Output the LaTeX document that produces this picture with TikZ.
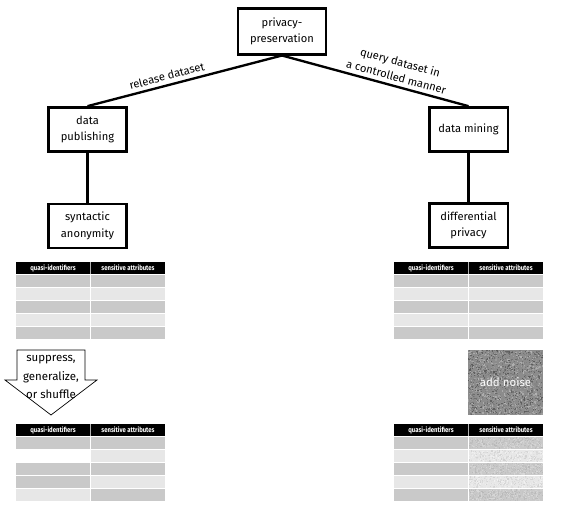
\documentclass[tikz,border=0pt]{standalone}
\usepackage{fontspec}
\setmainfont{Fira Sans}
\newfontfamily\condfont[FakeStretch=0.85]{Fira Sans}
\usetikzlibrary{positioning}
\definecolor{rowdark}{RGB}{201,201,201}
\definecolor{rowlight}{RGB}{231,231,231}
\definecolor{noisegray}{RGB}{140,140,140}
\tikzstyle{levelbox} = [rectangle, draw=black, line width=2pt, minimum width=2.35cm, minimum height=1.33cm, align=center, font=\fontsize{9.5}{14}\selectfont]
\tikzstyle{rootbox} = [levelbox, minimum width=2.65cm, minimum height=1.37cm]
\tikzstyle{link} = [line width=2pt]
\tikzstyle{linklabel} = [font=\fontsize{9.5}{13}\selectfont, align=center, sloped, above]
\tikzstyle{headtext} = [text=white, font=\condfont\bfseries\fontsize{6}{7}\selectfont, inner sep=0pt]

% table with a black header row and five coloured rows
\newcommand{\datatable}[4]{%
  \fill[black] (#1,#2) rectangle ++(149,12);
  \node[headtext] (#3q) at (#1+37,#2+6) {quasi-identifiers};
  \node[headtext] (#3s) at (#1+112,#2+6) {sensitive attributes};
  \draw[white!70!black, line width=0.5pt] (#1+74.5,#2) -- ++(0,12);
  \foreach \cl/\cr [count=\r] in {#4} {
    \fill[\cl] (#1,#2+13*\r) rectangle ++(74,12);
    \fill[\cr] (#1+75,#2+13*\r) rectangle ++(74,12);
  }
}
% random grain over a rectangle
\newcommand{\noisefill}[7]{%
  \foreach \k in {1,...,#5} {
    \pgfmathsetmacro{\nx}{#1+rnd*(#3-1.2)}
    \pgfmathsetmacro{\ny}{#2+rnd*(#4-1.2)}
    \pgfmathsetmacro{\nc}{#6+rnd*#7}
    \fill[black!\nc] (\nx,\ny) rectangle ++(1.2,1.2);
  }
}

\begin{document}
\begin{tikzpicture}[x=0.03cm, y=-0.03cm]
\useasboundingbox (0,0) rectangle (561,508);
\pgfmathsetseed{17}

% hierarchy
\node[rootbox] (root) at (282,31.5) {privacy-\\preservation};
\node[levelbox] (pub) at (87.5,129.5) {data\\publishing};
\node[levelbox] (syn) at (87.5,226) {syntactic\\anonymity};
\node[levelbox] (mine) at (468.5,129.5) {data mining};
\node[levelbox] (diff) at (468.5,225.5) {differential\\privacy};

\draw[link] (root.south) -- node[linklabel, pos=0.58] (rel) {release dataset} (pub.north);
\draw[link] (root.south) -- node[linklabel, pos=0.6] (qry) {query dataset in\\a controlled manner} (mine.north);
\draw[link] (pub) -- (syn);
\draw[link] (mine) -- (diff);

% original tables
\datatable{16}{262}{ptop}{rowdark/rowdark, rowlight/rowlight, rowdark/rowdark, rowlight/rowlight, rowdark/rowdark}
\datatable{394}{262}{dtop}{rowdark/rowdark, rowlight/rowlight, rowdark/rowdark, rowlight/rowlight, rowdark/rowdark}

% suppress arrow
\draw[line width=0.6pt, fill=white] (17,350) -- (85,350) -- (85,380) -- (97,380) -- (51,415) -- (5,380) -- (17,380) -- cycle;
\node[font=\fontsize{9.8}{16}\selectfont, align=center] (act) at (51,377) {suppress,\\generalize,\\or shuffle};

% noise
\fill[noisegray] (468,350) rectangle (543,415);
\noisefill{468}{350}{75}{65}{2000}{30}{35}
\node[text=white, font=\fontsize{9.8}{12}\selectfont] (noise) at (505.5,382.5) {add noise};

% released tables
\datatable{16}{424}{pbot}{rowdark/rowdark, white/rowlight, rowdark/rowdark, rowdark/rowlight, rowlight/rowdark}
\datatable{394}{424}{dbot}{rowdark/rowdark, rowlight/rowlight, rowdark/rowdark, rowlight/rowlight, rowdark/rowdark}
\foreach \yy/\mm in {437/15, 450/5, 463/15, 476/5, 489/15} {
  \noisefill{469}{\yy}{74}{12}{450}{\mm}{13}
}
\end{tikzpicture}
\end{document}
